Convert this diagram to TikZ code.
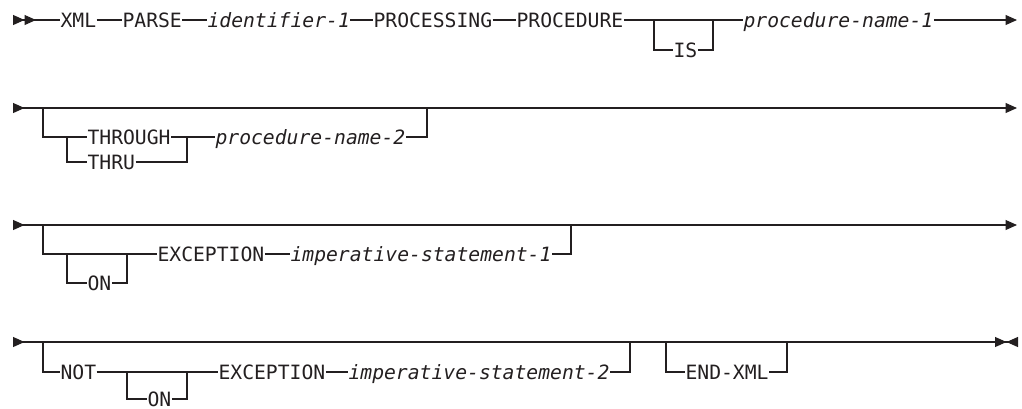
\documentclass[tikz,border=0pt]{standalone}
\usepackage{fontspec}
\usetikzlibrary{arrows.meta}
\newfontfamily\railfont{DejaVu Sans Mono}
\definecolor{railInk}{HTML}{231F20}

\begin{document}
\begin{tikzpicture}[x=1pt, y=-1pt, line width=1.1pt, draw=railInk,
      fw/.tip={Triangle[length=11.5pt, width=10pt]},
      bw/.tip={Triangle[length=11.5pt, width=10pt, reversed]},
      kw/.style={inner sep=0pt, anchor=west, text height=14.4pt, text depth=0pt, text=railInk,
        font=\railfont\fontsize{19.7pt}{22pt}\selectfont},
      var/.style={kw, font=\railfont\itshape\fontsize{19.7pt}{22pt}\selectfont}]
    \useasboundingbox (0,0) rectangle (1022,408);
    % first line
    \node[kw] (xml) at (60,20) {XML};
    \node[kw] (parse) at (122,20) {PARSE};
    \node[var] (id1) at (207,20) {identifier-1};
    \node[kw] (processing) at (373,20) {PROCESSING};
    \node[kw] (procedure) at (516,20) {PROCEDURE};
    \node[kw] (is) at (673,50) {IS};
    \node[var] (pn1) at (743,20) {procedure-name-1};
    \coordinate (s1) at (13,20);
    \coordinate (e1) at (1017,20);
    \coordinate (isin) at (654,20);
    \coordinate (isout) at (713,20);
    \draw[{bw[]bw[]}-] (s1) -- (xml);
    \draw (xml) -- (parse) (parse) -- (id1) (id1) -- (processing) (processing) -- (procedure);
    \draw (procedure) -- (pn1);
    \draw (isin) |- (is) -| (isout);
    \draw[-{fw[]}] (pn1) -- (e1);
    % rails that run right through
    \foreach \r/\y in {2/108, 3/225} {
      \coordinate (s\r) at (13,\y);
      \coordinate (e\r) at (1017,\y);
      \draw[{bw[]}-{fw[]}] (s\r) -- (e\r);
    }
    % THROUGH / THRU
    \node[kw] (through) at (87,137) {THROUGH};
    \node[kw] (thru) at (87,162) {THRU};
    \node[var] (pn2) at (215,137) {procedure-name-2};
    \coordinate (b2in) at (43,108);
    \coordinate (b2out) at (427,108);
    \coordinate (thin) at (67,137);
    \coordinate (thout) at (187,137);
    \draw (b2in) |- (through) -- (pn2) -| (b2out);
    \draw (thin) |- (thru) -| (thout);
    % ON EXCEPTION
    \node[kw] (on1) at (87,283) {ON};
    \node[kw] (exc1) at (157,254) {EXCEPTION};
    \node[var] (imp1) at (290,254) {imperative-statement-1};
    \coordinate (b3in) at (43,225);
    \coordinate (b3out) at (571,225);
    \coordinate (on1in) at (67,254);
    \coordinate (on1out) at (127,254);
    \draw (b3in) |- (exc1) -- (imp1) -| (b3out);
    \draw (on1in) |- (on1) -| (on1out);
    % NOT ON EXCEPTION, END-XML
    \node[kw] (not) at (60,372) {NOT};
    \node[kw] (on2) at (147,399) {ON};
    \node[kw] (exc2) at (218,372) {EXCEPTION};
    \node[var] (imp2) at (348,372) {imperative-statement-2};
    \node[kw] (endxml) at (685,372) {END-XML};
    \coordinate (s4) at (13,342);
    \coordinate (e4) at (1018,342);
    \coordinate (b4in) at (43,342);
    \coordinate (b4out) at (630,342);
    \coordinate (on2in) at (127,372);
    \coordinate (on2out) at (187,372);
    \coordinate (exin) at (666,342);
    \coordinate (exout) at (787,342);
    \draw[{bw[]}-{fw[]bw[]}] (s4) -- (e4);
    \draw (b4in) |- (not) -- (exc2) -- (imp2) -| (b4out);
    \draw (on2in) |- (on2) -| (on2out);
    \draw (exin) |- (endxml) -| (exout);
  \end{tikzpicture}
\end{document}
